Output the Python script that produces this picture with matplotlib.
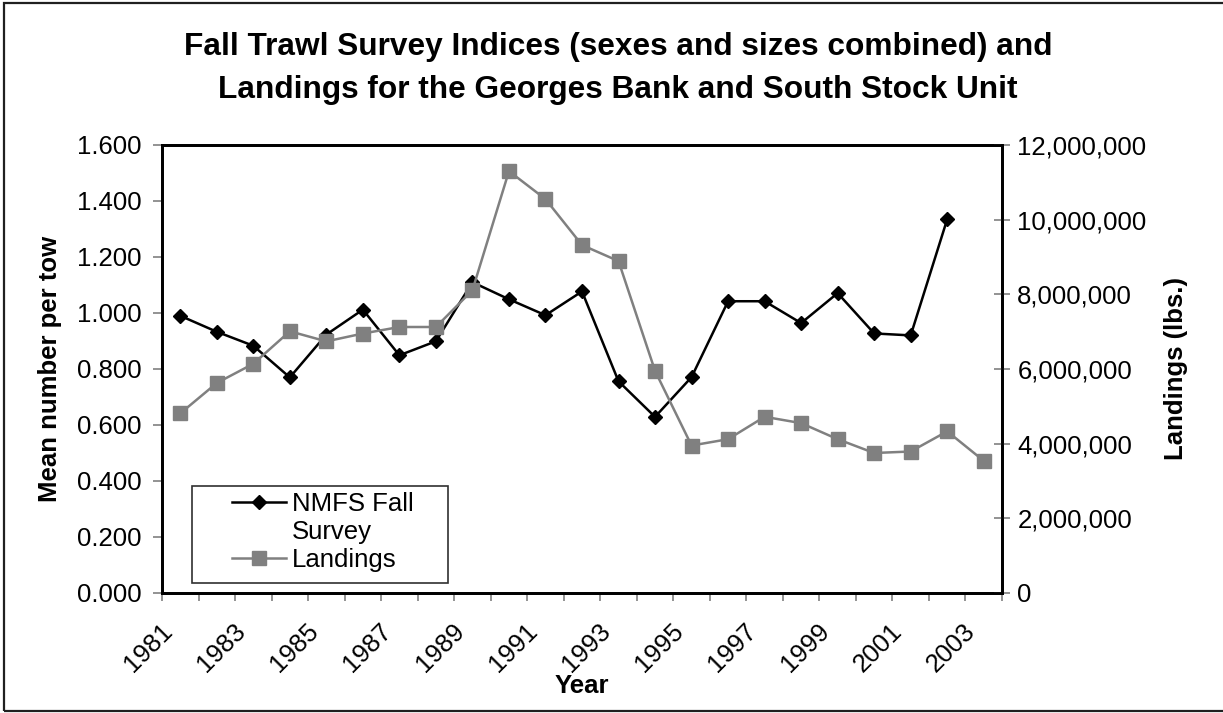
import numpy as np
import matplotlib
matplotlib.use("Agg")
import matplotlib.pyplot as plt
from matplotlib.lines import Line2D
from matplotlib.patches import Rectangle
from matplotlib.ticker import FuncFormatter, NullFormatter
from matplotlib.transforms import ScaledTranslation

plt.rcParams['font.family'] = ['Liberation Sans', 'DejaVu Sans']

# Georges Bank and South stock unit
years = list(range(1981, 2004))
survey_index = [0.990, 0.933, 0.883, 0.770, 0.923, 1.012, 0.849, 0.899, 1.110, 1.049,
                0.992, 1.077, 0.756, 0.629, 0.771, 1.042, 1.042, 0.964, 1.071, 0.927,
                0.920, 1.335, np.nan]
landings_lbs = [4810000, 5625000, 6140000, 7010000, 6740000, 6950000, 7125000, 7125000,
                8110000, 11300000, 10550000, 9320000, 8890000, 5950000, 3950000, 4120000,
                4720000, 4550000, 4120000, 3750000, 3790000, 4330000, 3540000]

W, H = 1223, 713
fig = plt.figure(figsize=(W / 100, H / 100), dpi=100)

# outer chart border
fig.patches.append(Rectangle((4 / W, 1 - 711 / H), 1.2, (711 - 3) / H,
                             transform=fig.transFigure, fill=False,
                             edgecolor='#202020', linewidth=1.6))

ax = fig.add_axes([162 / W, 1 - 593 / H, 840 / W, 448 / H])
ax2 = ax.twinx()

x = np.arange(len(years))
gray = '#808080'

line_survey, = ax.plot(x, survey_index, color='black', linewidth=1.8,
                       marker='D', markersize=7, label='NMFS Fall')
line_land, = ax2.plot(x, landings_lbs, color=gray, linewidth=1.8,
                      marker='s', markersize=9.5, label='Landings')

ax.set_xlim(-0.5, len(years) - 0.5)
ax.set_ylim(0, 1.6)
ax2.set_ylim(0, 12000000)

ax.set_yticks(np.arange(0, 1.61, 0.2))
ax.yaxis.set_major_formatter(FuncFormatter(lambda v, p: f'{v:.3f}'))
ax2.set_yticks(np.arange(0, 12000001, 2000000))
ax2.yaxis.set_major_formatter(FuncFormatter(lambda v, p: f'{v:,.0f}'))

# tick marks on category boundaries, labels on every other category
ax.set_xticks(np.arange(-0.5, len(years)))
ax.xaxis.set_major_formatter(NullFormatter())
ax.set_xticks(x[::2], minor=True)
ax.set_xticklabels([str(y) for y in years[::2]], minor=True, rotation=45,
                   ha='right', va='center', rotation_mode='anchor')

fs = 18.5
ax.tick_params(axis='x', which='major', direction='out', length=6, width=1.2, color=gray)
ax.tick_params(axis='x', which='minor', length=0, labelsize=fs, pad=25)
ax.tick_params(axis='y', direction='out', length=6.5, width=1.2, color=gray,
               labelsize=fs, pad=8)
ax2.tick_params(axis='y', direction='inout', length=12, width=1.2, color=gray,
                labelsize=fs, pad=5)

# year labels sit a little left of the category centre
shift = ScaledTranslation(-0.12, 0, fig.dpi_scale_trans)
for lbl in ax.get_xticklabels(minor=True):
    lbl.set_transform(lbl.get_transform() + shift)

for a in (ax, ax2):
    for s in a.spines.values():
        s.set_linewidth(2)
        s.set_color('black')

fig.text(618 / W, 1 - 32 / H,
         'Fall Trawl Survey Indices (sexes and sizes combined) and\n'
         'Landings for the Georges Bank and South Stock Unit',
         ha='center', va='top', fontsize=22.8, fontweight='bold', linespacing=1.55)
fig.text(50 / W, 1 - 369 / H, 'Mean number per tow', rotation=90,
         ha='center', va='center', fontsize=fs, fontweight='bold')
fig.text(1176 / W, 1 - 369 / H, 'Landings (lbs.)', rotation=90,
         ha='center', va='center', fontsize=fs, fontweight='bold')
fig.text(582 / W, 1 - 686 / H, 'Year', ha='center', va='center',
         fontsize=fs, fontweight='bold')

# legend box and entries (label wraps onto a second line)
ax2.add_patch(Rectangle((0.0354, 0.0217), 0.305, 0.218, transform=ax2.transAxes,
                        facecolor='white', edgecolor='#303030', linewidth=1.2, zorder=5))
blank = Line2D([], [], color='none')
leg = ax2.legend([line_survey, blank, line_land], ['NMFS Fall', 'Survey', 'Landings'],
                 loc='upper left', bbox_to_anchor=(0.083, 0.226), borderaxespad=0,
                 borderpad=0, frameon=False, fontsize=fs, handlelength=2.1,
                 handletextpad=0.25, labelspacing=0.17)
leg.set_zorder(6)

fig.savefig('out.png', dpi=100)
